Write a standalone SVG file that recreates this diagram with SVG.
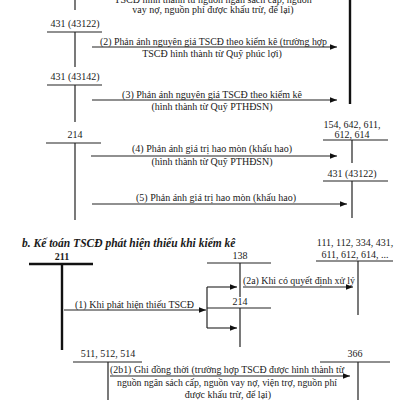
<svg xmlns="http://www.w3.org/2000/svg" width="400" height="400" viewBox="0 0 400 400">
<defs>
<marker id="ah" viewBox="0 0 10 10" refX="10" refY="5" markerWidth="7" markerHeight="7" markerUnits="userSpaceOnUse" orient="auto"><path d="M0,1 L10,5 L0,9 z" fill="#111"/></marker>
<style>
text{font-family:"Liberation Serif","Times New Roman",serif;font-size:10px;fill:#1a1a1a}
.c{text-anchor:middle}
.t{stroke:#222;stroke-width:1.2;fill:none}
.k{stroke:#111;stroke-width:2.4;fill:none}
.a{stroke:#222;stroke-width:1.1;fill:none;marker-end:url(#ah)}
.h{font-weight:bold;font-style:italic;font-size:11.5px}
.b{font-weight:bold}
</style>
</defs>
<rect width="400" height="400" fill="#fff"/>
<g id="acc431a">
<text class="c" x="75" y="27">431 (43122)</text>
<path class="t" d="M47,32 H102 M75,32 V67"/>
</g>
<g id="acc431b">
<text class="c" x="75" y="80">431 (43142)</text>
<path class="t" d="M47,85 H102 M75,85 V122"/>
</g>
<g id="acc214a">
<text class="c" x="75" y="138">214</text>
<path class="t" d="M46,143 H101 M75,143 V220"/>
</g>
<g id="accTopRight">
<path class="k" d="M350,0 V104"/>
</g>
<g id="acc154">
<text class="c" x="352" y="128">154, 642,  611,</text>
<text class="c" x="352" y="138">612, 614</text>
<path class="t" d="M323,140 H388 M352,140 V163"/>
</g>
<g id="acc431c">
<text class="c" x="352" y="177">431 (43122)</text>
<path class="t" d="M323,181 H388 M352,181 V218"/>
</g>
<g id="accTopLeft">
<path class="t" d="M75,0 V10"/>
</g>
<text class="h" x="22" y="247">b. Kế toán TSCĐ phát hiện thiếu khi kiểm kê</text>
<g id="acc211">
<text class="c b" x="62" y="260">211</text>
<path class="k" d="M29,264 H93 M62,264 V350"/>
</g>
<g id="acc138">
<text class="c" x="240" y="259">138</text>
<path class="t" d="M207,263 H271 M240,263 V297"/>
</g>
<g id="acc111">
<text class="c" x="355" y="246">111, 112, 334, 431,</text>
<text class="c" x="355" y="258">611, 612, 614, ...</text>
<path class="t" d="M316,261 H393 M358,261 V315"/>
</g>
<g id="acc214b">
<text class="c" x="240" y="305">214</text>
<path class="t" d="M207,308 H271 M240,308 V347"/>
</g>
<g id="acc511">
<text class="c" x="108" y="357">511, 512, 514</text>
<path class="t" d="M73,362 H142 M108,362 V400"/>
</g>
<g id="acc366">
<text class="c" x="355" y="357">366</text>
<path class="t" d="M320,362 H390 M358,362 V400"/>
</g>
<g id="connectors">
<path class="a" d="M92,47 H337"/>
<path class="a" d="M92,100 H337"/>
<path class="a" d="M91,156 H337"/>
<path class="a" d="M92,204 H347"/>
<path class="a" d="M64,310 H206"/>
<path class="t" d="M207,287 V328"/>
<path class="a" d="M207,287 H237"/>
<path class="a" d="M207,328 H237"/>
<path class="a" d="M243,287 H353"/>
<path class="a" d="M110,376 H350"/>
</g>
<g id="labels">
<text class="c" x="213" y="3">TSCĐ hình thành từ nguồn ngân sách cấp, nguồn</text>
<text class="c" x="213" y="13">vay nợ, nguồn phí được khấu trừ, để lại)</text>
<text x="100" y="45" textLength="227" lengthAdjust="spacingAndGlyphs">(2) Phản ánh nguyên giá TSCĐ theo kiểm kê (trường hợp</text>
<text class="c" x="212" y="57">TSCĐ hình thành từ Quỹ phúc lợi)</text>
<text class="c" x="212" y="98">(3) Phản ánh nguyên giá TSCĐ theo kiểm kê</text>
<text class="c" x="212" y="110">(hình thành từ Quỹ PTHĐSN)</text>
<text class="c" x="212" y="152">(4) Phản ánh giá trị hao mòn (khấu hao)</text>
<text class="c" x="212" y="165">(hình thành từ Quỹ PTHĐSN)</text>
<text class="c" x="216" y="201">(5) Phản ánh giá trị hao mòn (khấu hao)</text>
<text x="75" y="308">(1) Khi phát hiện thiếu TSCĐ</text>
<text x="243" y="284" textLength="112" lengthAdjust="spacingAndGlyphs">(2a) Khi có quyết định xử lý</text>
<text x="110" y="373" textLength="234" lengthAdjust="spacingAndGlyphs">(2b1) Ghi đồng thời (trường hợp TSCĐ được hình thành từ</text>
<text x="117" y="386" textLength="220" lengthAdjust="spacingAndGlyphs">nguồn ngân sách cấp, nguồn vay nợ, viện trợ, nguồn phí</text>
<text class="c" x="228" y="398">được khấu trừ, để lại)</text>
</g>
</svg>
